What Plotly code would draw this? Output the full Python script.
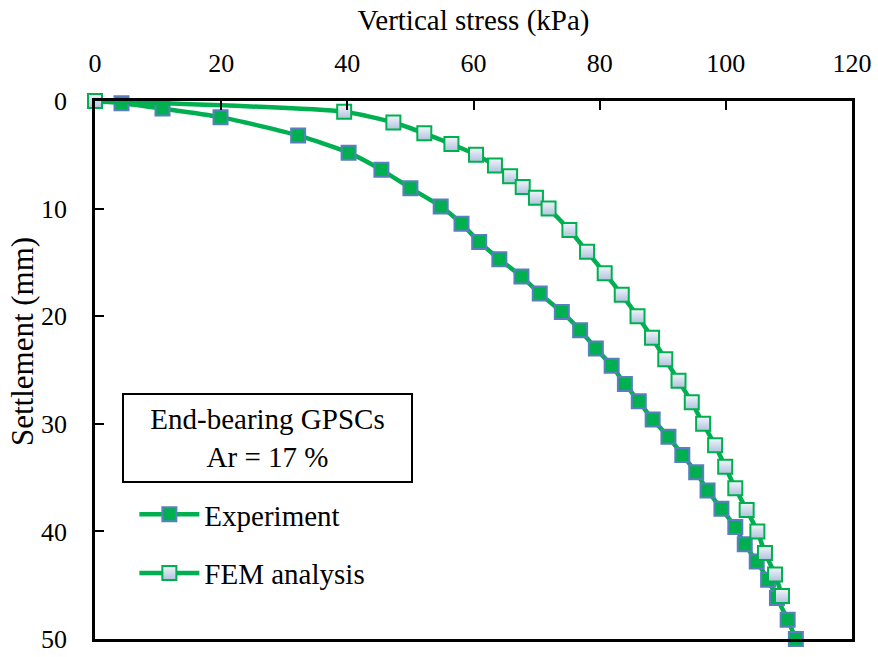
import plotly.graph_objects as go

# Load-settlement curves for end-bearing GPSCs (area ratio 17 %)
exp_stress = [0, 4.2, 10.7, 19.9, 32.2, 40.2, 45.4, 50.0, 54.8, 58.1, 60.9, 64.1,
              67.6, 70.5, 74.0, 76.9, 79.4, 81.9, 84.0, 86.2, 88.4, 90.9, 93.1,
              95.3, 97.1, 99.3, 101.5, 103.0, 104.9, 106.7, 108.1, 109.8, 111.1]
exp_settlement = [0, 0.2, 0.7, 1.5, 3.2, 4.8, 6.4, 8.1, 9.8, 11.4, 13.1, 14.7,
                  16.3, 17.9, 19.6, 21.3, 23.0, 24.6, 26.3, 27.9, 29.6, 31.2, 32.9,
                  34.5, 36.2, 37.9, 39.6, 41.2, 42.8, 44.5, 46.2, 48.2, 50.0]

fem_stress = [0, 39.5, 47.3, 52.2, 56.5, 60.4, 63.4, 65.8, 67.8, 69.9, 71.9, 75.2,
              78.0, 80.8, 83.5, 86.0, 88.3, 90.4, 92.5, 94.6, 96.4, 98.3, 99.9,
              101.5, 103.3, 105.0, 106.2, 107.8, 108.9]
fem_settlement = [0, 1, 2, 3, 4, 5, 6, 7, 8, 9, 10, 12, 14, 16, 18, 20, 22, 24, 26,
                  28, 30, 32, 34, 36, 38, 40, 42, 44, 46]

x_ticks = [0, 20, 40, 60, 80, 100, 120]
y_ticks = [0, 10, 20, 30, 40, 50]

GREEN = "#00B050"
BLUE_EDGE = "#5A7FC0"
FONT = "'Liberation Serif', 'Times New Roman', Tinos, serif"

fig = go.Figure()

fig.add_trace(go.Scatter(
    x=exp_stress, y=exp_settlement, name="Experiment", mode="lines+markers",
    line=dict(color=GREEN, width=4.5, shape="spline", smoothing=0.6),
    marker=dict(symbol="square", size=14, color=GREEN,
                line=dict(color=BLUE_EDGE, width=2)),
    legendgroup="a", cliponaxis=False,
))

fig.add_trace(go.Scatter(
    x=fem_stress, y=fem_settlement, name="FEM analysis", mode="lines+markers",
    line=dict(color=GREEN, width=4.5, shape="spline", smoothing=0.6),
    marker=dict(symbol="square", size=14, color="#F2F5FA",
                gradient=dict(type="vertical", color="#AFC2DD"),
                line=dict(color=GREEN, width=2)),
    legendgroup="b", cliponaxis=False,
))

# Case description box
fig.add_annotation(
    text="End-bearing GPSCs<br>Ar = 17 %",
    xref="paper", yref="paper", x=0.228, y=0.3736,
    xanchor="center", yanchor="middle", showarrow=False,
    width=287, height=86, borderpad=0,
    bordercolor="black", borderwidth=2, bgcolor="white",
    font=dict(family=FONT, size=29, color="black"),
)

# Settlement axis title
fig.add_annotation(
    text="Settlement (mm)", textangle=-90,
    xref="paper", yref="paper", x=-0.0964, y=0.552,
    xanchor="center", yanchor="middle", showarrow=False,
    font=dict(family=FONT, size=31, color="black"),
)

fig.update_layout(
    width=878, height=657,
    margin=dict(l=95, r=26, t=101, b=18, autoexpand=False),
    paper_bgcolor="white", plot_bgcolor="white",
    font=dict(family=FONT, size=26, color="black"),
    showlegend=True,
    legend=dict(x=0.052, y=0.279, xanchor="left", yanchor="top",
                bgcolor="rgba(0,0,0,0)", borderwidth=0,
                font=dict(family=FONT, size=29, color="black"),
                tracegroupgap=18, itemwidth=60),
    xaxis=dict(
        side="top", range=[0, 120], tickvals=x_ticks,
        ticks="inside", ticklen=9, tickwidth=1.5, tickcolor="black",
        showline=True, linecolor="black", linewidth=2.5, mirror=True,
        showgrid=False, zeroline=False, ticklabelstandoff=16,
        tickfont=dict(family=FONT, size=26),
        title=dict(text="Vertical stress (kPa)", standoff=10,
                   font=dict(family=FONT, size=29)),
    ),
    yaxis=dict(
        range=[50, 0], tickvals=y_ticks,
        ticks="inside", ticklen=9, tickwidth=1.5, tickcolor="black",
        showline=True, linecolor="black", linewidth=2.5, mirror=True,
        showgrid=False, zeroline=False, ticklabelstandoff=20,
        tickfont=dict(family=FONT, size=26),
    ),
)

fig.write_html("out.html")
